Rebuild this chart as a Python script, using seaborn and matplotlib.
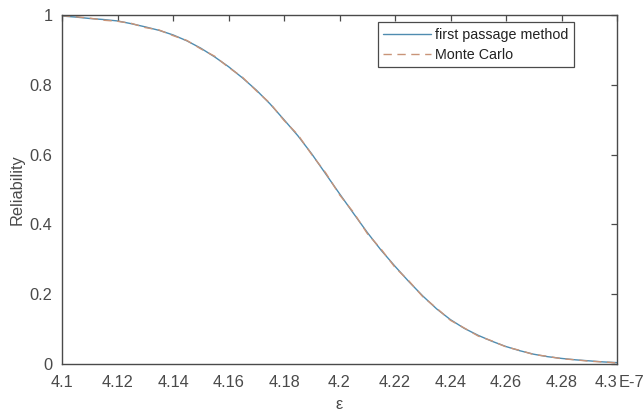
import numpy as np
import pandas as pd
import matplotlib
matplotlib.use("Agg")
import matplotlib.pyplot as plt
import seaborn as sns
from matplotlib.lines import Line2D

eps = [4.100, 4.105, 4.110, 4.115, 4.120, 4.125, 4.130, 4.135, 4.140, 4.145,
       4.150, 4.155, 4.160, 4.165, 4.170, 4.175, 4.180, 4.185, 4.190, 4.195,
       4.200, 4.205, 4.210, 4.215, 4.220, 4.225, 4.230, 4.235, 4.240, 4.245,
       4.250, 4.255, 4.260, 4.265, 4.270, 4.275, 4.280, 4.285, 4.290, 4.295,
       4.300]
first_passage = [0.997, 0.994, 0.990, 0.987, 0.983, 0.975, 0.966, 0.956, 0.943, 0.926,
                 0.905, 0.880, 0.852, 0.820, 0.785, 0.745, 0.700, 0.654, 0.602, 0.545,
                 0.488, 0.432, 0.377, 0.326, 0.280, 0.236, 0.195, 0.158, 0.127, 0.102,
                 0.082, 0.065, 0.050, 0.038, 0.028, 0.021, 0.016, 0.012, 0.009, 0.006,
                 0.004]
monte_carlo = [0.998, 0.995, 0.991, 0.985, 0.982, 0.976, 0.964, 0.957, 0.941, 0.927,
               0.903, 0.882, 0.850, 0.822, 0.783, 0.747, 0.698, 0.657, 0.600, 0.548,
               0.485, 0.435, 0.374, 0.329, 0.277, 0.238, 0.193, 0.160, 0.125, 0.103,
               0.080, 0.066, 0.049, 0.039, 0.027, 0.022, 0.015, 0.012, 0.008, 0.006,
               0.003]
x_ticks = [4.10, 4.12, 4.14, 4.16, 4.18, 4.20, 4.22, 4.24, 4.26, 4.28, 4.30]
x_tick_labels = ["4.1", "4.12", "4.14", "4.16", "4.18", "4.2", "4.22", "4.24", "4.26", "4.28", "4.3"]
y_ticks = [0, 0.2, 0.4, 0.6, 0.8, 1.0]
y_tick_labels = ["0", "0.2", "0.4", "0.6", "0.8", "1"]
series_names = ["first passage method", "Monte Carlo"]

df = pd.DataFrame({
    "eps": eps * 2,
    "rel": first_passage + monte_carlo,
    "method": [series_names[0]] * len(eps) + [series_names[1]] * len(eps),
})

sns.set_style("white")
plt.rcParams["font.family"] = ["Liberation Sans", "DejaVu Sans"]

fig = plt.figure(figsize=(6.44, 4.11), dpi=100)
ax = fig.add_axes([62 / 644, 1 - 364 / 411, 555 / 644, 349 / 411])

tc = "#4a4a4a"
c1, c2 = "#4f8cb0", "#c99478"
sns.lineplot(data=df, x="eps", y="rel", hue="method", style="method",
             palette={series_names[0]: c1, series_names[1]: c2},
             dashes={series_names[0]: "", series_names[1]: (6, 4)},
             linewidth=1.0, ax=ax, legend=False)

ax.set_xlim(4.10, 4.30)
ax.set_ylim(0, 1)
ax.set_xticks(x_ticks)
ax.set_xticklabels(x_tick_labels)
ax.set_yticks(y_ticks)
ax.set_yticklabels(y_tick_labels)
ax.tick_params(direction="in", length=4, width=0.9, colors=tc, labelsize=11.8,
               top=True, right=True)
ax.tick_params(axis="x", pad=8)
ax.tick_params(axis="y", pad=7)
ax.get_xticklabels()[-1].set_ha("right")
for s in ax.spines.values():
    s.set_color(tc)
    s.set_linewidth(1.0)
    s.set_visible(True)

ax.set_xlabel("ε", fontsize=11.8, color=tc)
ax.set_ylabel("Reliability", fontsize=11.8, color=tc)
ax.xaxis.set_label_coords(0.5, -0.095)
ax.yaxis.set_label_coords(-0.067, 0.5)

ax.text(1.003, -0.053, "E-7", transform=ax.transAxes, ha="left", va="center",
        fontsize=11.8, color=tc)

handles = [Line2D([], [], color=c1, lw=1.0),
           Line2D([], [], color=c2, lw=1.0, dashes=(6, 4))]
leg = ax.legend(handles, series_names, loc="upper right",
                bbox_to_anchor=(0.9225, 0.979), fontsize=10.3, frameon=True,
                fancybox=False, framealpha=1, edgecolor=tc, handlelength=3.3,
                handletextpad=0.3, borderpad=0.4, labelspacing=0.4,
                borderaxespad=0)
leg.get_frame().set_linewidth(0.9)
for t in leg.get_texts():
    t.set_color("#222222")

fig.savefig("out.png", dpi=100)
